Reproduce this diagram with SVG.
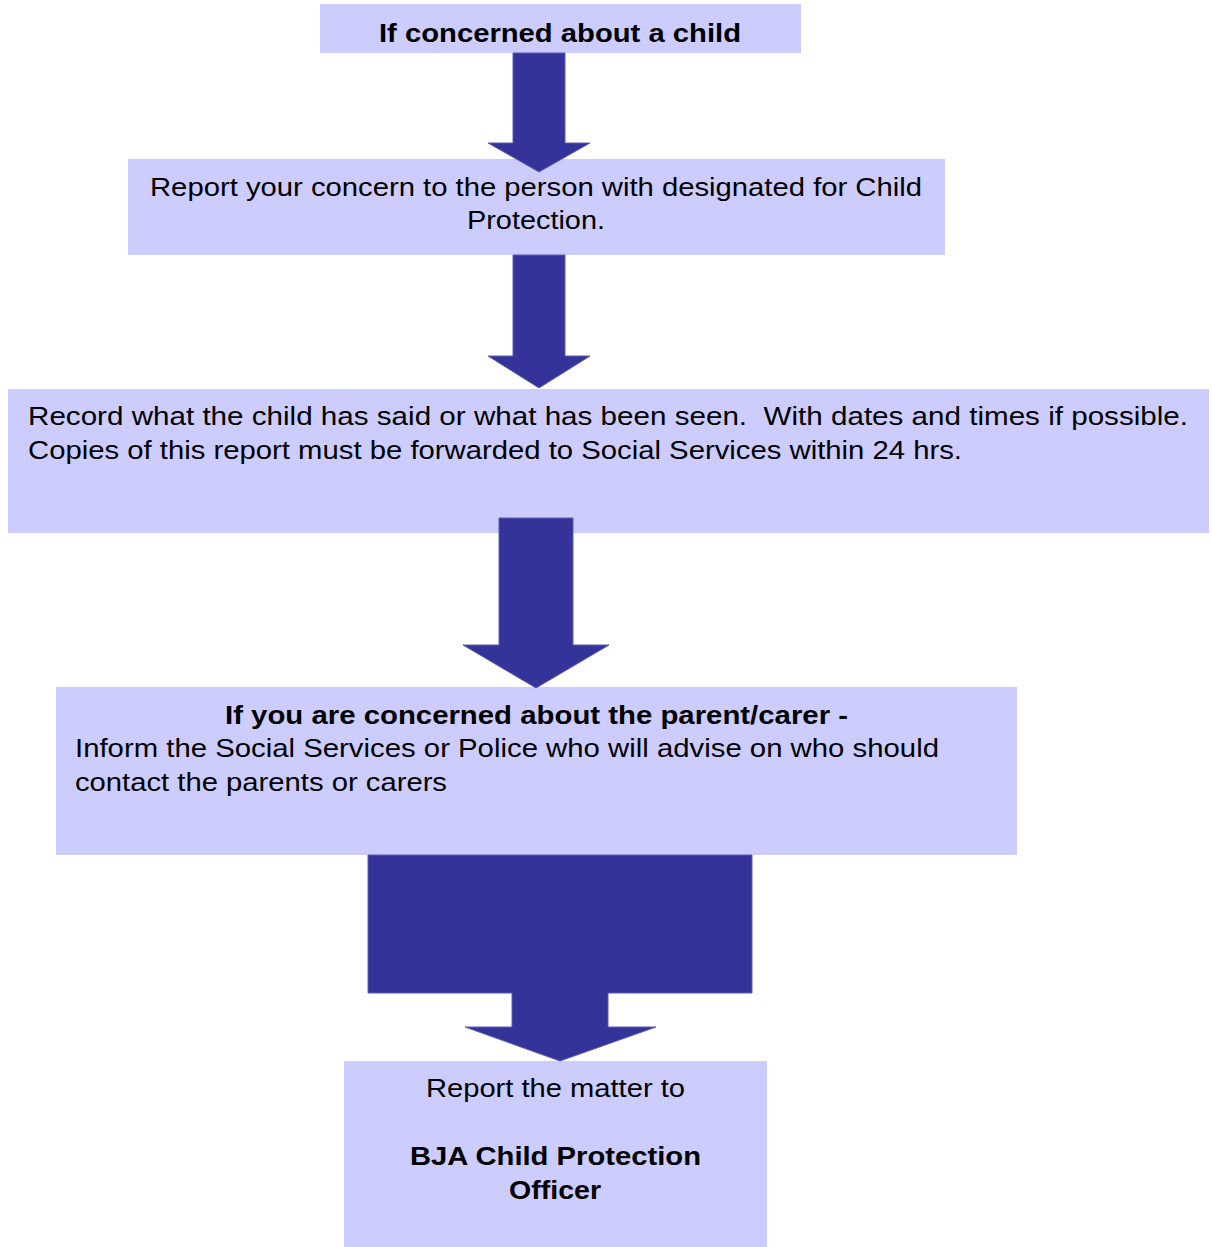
<svg xmlns="http://www.w3.org/2000/svg" width="1212" height="1247" viewBox="0 0 1212 1247">
<style>
.box{fill:#CCCCFF}
.arrow{fill:#333399;stroke:#5c5cb0;stroke-width:1}
text{font-family:"Liberation Sans",Arial,sans-serif;font-size:26px;fill:#000}
.b{font-weight:bold}
</style>
<rect width="1212" height="1247" fill="#fff"/>
<g id="node1">
<rect class="box" x="320" y="4" width="481" height="49"/>
<text class="b" x="379" y="42" textLength="362" lengthAdjust="spacingAndGlyphs">If concerned about a child</text>
</g>
<g id="node2">
<rect class="box" x="128" y="159" width="817" height="96"/>
<text x="150" y="196" textLength="772" lengthAdjust="spacingAndGlyphs">Report your concern to the person with designated for Child</text>
<text x="467" y="229" textLength="138" lengthAdjust="spacingAndGlyphs">Protection.</text>
</g>
<g id="node3">
<rect class="box" x="8" y="389" width="1201" height="144"/>
<text x="28" y="425" xml:space="preserve" textLength="1160" lengthAdjust="spacingAndGlyphs">Record what the child has said or what has been seen.  With dates and times if possible.</text>
<text x="28" y="459" textLength="934" lengthAdjust="spacingAndGlyphs">Copies of this report must be forwarded to Social Services within 24 hrs.</text>
</g>
<g id="node4">
<rect class="box" x="56" y="687" width="961" height="168"/>
<text class="b" x="225" y="724" textLength="623" lengthAdjust="spacingAndGlyphs">If you are concerned about the parent/carer -</text>
<text x="75" y="757" textLength="864" lengthAdjust="spacingAndGlyphs">Inform the Social Services or Police who will advise on who should</text>
<text x="75" y="791" textLength="372" lengthAdjust="spacingAndGlyphs">contact the parents or carers</text>
</g>
<g id="node5">
<rect class="box" x="344" y="1061" width="423" height="186"/>
<text x="426" y="1097" textLength="259" lengthAdjust="spacingAndGlyphs">Report the matter to</text>
<text class="b" x="410" y="1165" textLength="291" lengthAdjust="spacingAndGlyphs">BJA Child Protection</text>
<text class="b" x="509" y="1199" textLength="92" lengthAdjust="spacingAndGlyphs">Officer</text>
</g>
<g id="connectors">
<polygon class="arrow" points="513,53 565,53 565,143 590,143 539,172 488,143 513,143"/>
<polygon class="arrow" points="513,255 565,255 565,356 590,356 539,388 488,356 513,356"/>
<polygon class="arrow" points="499,518 573,518 573,645 609,645 536,688 463,645 499,645"/>
<polygon class="arrow" points="368,855 752,855 752,993 608,993 608,1027 656,1027 560,1061 465,1027 512,1027 512,993 368,993"/>
</g>
</svg>
